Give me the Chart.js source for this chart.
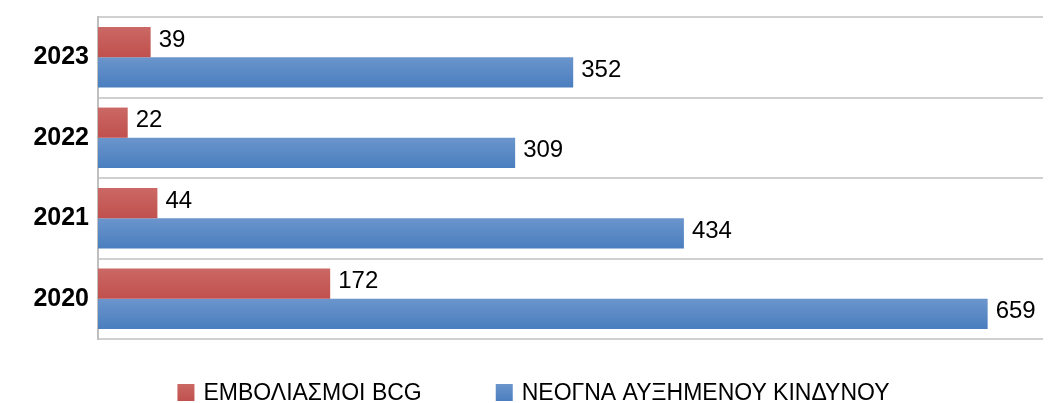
<!DOCTYPE html>
<html>
<head>
<meta charset="utf-8">
<title>BCG - Νεογνά αυξημένου κινδύνου</title>
<script src="https://cdn.jsdelivr.net/npm/chart.js"></script>
<style>
    html, body { margin: 0; padding: 0; background: #fff; }
    .chart-container { width: 1061px; height: 403px; }
</style>
</head>
<body>
<div class="chart-container">
    <canvas id="bcgChart" width="1061" height="403"></canvas>
</div>
<script>
    // data
    const years = ['2023', '2022', '2021', '2020'];
    const bcgValues = [39, 22, 44, 172];
    const newbornValues = [352, 309, 434, 659];
    const seriesNames = ['ΕΜΒΟΛΙΑΣΜΟΙ BCG', 'ΝΕΟΓΝΑ ΑΥΞΗΜΕΝΟΥ ΚΙΝΔΥΝΟΥ'];
    const xMax = 700;

    const RED = ['#CB6865', '#C0504D'];
    const BLUE = ['#6B95CC', '#4A7EBF'];
    const CAT_PCT = 0.75;

    // Excel-like vertical shading inside each bar
    function barGradient(colors, dsIndex) {
        return function (c) {
            const y = c.chart.scales.y;
            if (!y || c.type !== 'data') return colors[1];
            const center = y.getPixelForValue(c.dataIndex);
            const half = (y.height / years.length) * CAT_PCT / 2;
            if (!isFinite(center) || !half) return colors[1];
            const top = dsIndex === 0 ? center - half : center;
            const g = c.chart.ctx.createLinearGradient(0, top, 0, top + half);
            g.addColorStop(0, colors[0]);
            g.addColorStop(1, colors[1]);
            return g;
        };
    }

    // numbers at the end of the bars
    const valueLabels = {
        id: 'valueLabels',
        afterDatasetsDraw(chart) {
            const ctx = chart.ctx;
            ctx.save();
            ctx.font = '24px "Liberation Sans", Arial, sans-serif';
            ctx.fillStyle = '#000';
            ctx.textBaseline = 'middle';
            chart.data.datasets.forEach((ds, i) => {
                chart.getDatasetMeta(i).data.forEach((bar, j) => {
                    ctx.fillText(String(ds.data[j]), bar.x + 8, bar.y - 2);
                });
            });
            ctx.restore();
        }
    };

    // legend under the plot
    const bottomLegend = {
        id: 'bottomLegend',
        afterDraw(chart) {
            const ctx = chart.ctx;
            const box = 17, gap = 9, spacing = 74;
            const colors = [RED, BLUE];
            ctx.save();
            ctx.font = '23px "Liberation Sans", Arial, sans-serif';
            const items = chart.data.datasets.map((ds, i) => ({
                text: ds.label,
                colors: colors[i],
                w: box + gap + ctx.measureText(ds.label).width
            }));
            const total = items.reduce((s, it) => s + it.w, 0) + spacing * (items.length - 1);
            let x = chart.width / 2 + 3 - total / 2;
            const baseY = 400;
            items.forEach(it => {
                const g = ctx.createLinearGradient(0, baseY - 16, 0, baseY + 1);
                g.addColorStop(0, it.colors[0]);
                g.addColorStop(1, it.colors[1]);
                ctx.fillStyle = g;
                ctx.fillRect(x, baseY - 16, box, box);
                ctx.fillStyle = '#000';
                ctx.textBaseline = 'alphabetic';
                ctx.fillText(it.text, x + box + gap, baseY);
                x += it.w + spacing;
            });
            ctx.restore();
        }
    };

    const ctx = document.getElementById('bcgChart').getContext('2d');
    new Chart(ctx, {
        type: 'bar',
        data: {
            labels: years,
            datasets: [{
                label: seriesNames[0],
                data: bcgValues,
                backgroundColor: barGradient(RED, 0),
                barPercentage: 1,
                categoryPercentage: CAT_PCT
            }, {
                label: seriesNames[1],
                data: newbornValues,
                backgroundColor: barGradient(BLUE, 1),
                barPercentage: 1,
                categoryPercentage: CAT_PCT
            }]
        },
        options: {
            indexAxis: 'y',
            responsive: false,
            animation: false,
            layout: {
                padding: { left: 0, right: 18, top: 17, bottom: 64 }
            },
            scales: {
                x: {
                    display: false,
                    min: 0,
                    max: xMax
                },
                y: {
                    afterFit(scale) {
                        scale.width = 98;
                        scale.paddingTop = 0;
                        scale.paddingBottom = 0;
                    },
                    grid: {
                        color: '#D0D0D0',
                        lineWidth: 2,
                        drawTicks: false,
                        offset: true
                    },
                    border: { color: '#BFBFBF', width: 2 },
                    ticks: {
                        color: '#000',
                        padding: 9,
                        font: { family: '"Liberation Sans", Arial, sans-serif', size: 25, weight: 'bold' }
                    }
                }
            },
            plugins: {
                legend: { display: false },
                tooltip: { enabled: false }
            }
        },
        plugins: [valueLabels, bottomLegend]
    });
</script>
</body>
</html>
